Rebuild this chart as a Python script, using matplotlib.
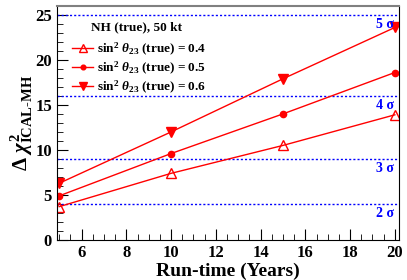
import matplotlib.pyplot as plt
from matplotlib.ticker import MultipleLocator

# Run-time in Jahren und Delta chi^2 fuer drei Werte von sin^2 theta_23
years = [5, 10, 15, 20]
chi2_04 = [3.7, 7.4, 10.5, 13.9]
chi2_05 = [4.9, 9.6, 14.0, 18.6]
chi2_06 = [6.3, 12.0, 17.9, 23.6]

# Signifikanz-Linien
sigma_vals = [4, 9, 16, 25]
sigma_labels = ["2 σ", "3 σ", "4 σ", "5 σ"]

plt.rcParams['font.family'] = ['Liberation Serif', 'DejaVu Serif']
plt.rcParams['font.weight'] = 'bold'
plt.rcParams['mathtext.fontset'] = 'custom'
plt.rcParams['mathtext.rm'] = 'Liberation Serif:bold'
plt.rcParams['mathtext.it'] = 'Liberation Serif:bold:italic'
plt.rcParams['mathtext.bf'] = 'Liberation Serif:bold'

fig = plt.figure(figsize=(4.07, 2.8), dpi=100)
ax = fig.add_axes([0.140, 0.143, 0.840, 0.836])

for v, lab in zip(sigma_vals, sigma_labels):
    ax.axhline(v, color='blue', ls=(0, (1.5, 1.5)), lw=1.0)
    ax.text(19.95, v - 0.3, lab, color='blue', ha='right', va='top', fontsize=10)

ax.plot(years, chi2_04, color='red', lw=1.0, marker='^', ms=7, mfc='none', mec='red',
        label=r"sin$^2$ $\theta_{23}$ (true) = 0.4")
ax.plot(years, chi2_05, color='red', lw=1.0, marker='o', ms=4.5,
        label=r"sin$^2$ $\theta_{23}$ (true) = 0.5")
ax.plot(years, chi2_06, color='red', lw=1.0, marker='v', ms=7,
        label=r"sin$^2$ $\theta_{23}$ (true) = 0.6")

ax.set_xlim(4.9, 20.18)
ax.set_ylim(0, 26)
ax.xaxis.set_major_locator(MultipleLocator(2))
ax.xaxis.set_minor_locator(MultipleLocator(0.5))
ax.yaxis.set_major_locator(MultipleLocator(5))
ax.yaxis.set_minor_locator(MultipleLocator(1))
ax.tick_params(which='both', direction='in', top=False, right=False, labelsize=12)
ax.tick_params(which='major', length=8)
ax.tick_params(which='minor', length=4)
for t in ax.get_xticklabels() + ax.get_yticklabels():
    t.set_fontweight('bold')
ax.spines['top'].set_color('gray')
ax.spines['top'].set_linewidth(1.5)

ax.set_xlabel("Run-time (Years)", fontsize=14, fontweight='bold', labelpad=1)
ax.set_ylabel(r"$\Delta\ \chi^2_{\rm ICAL\text{-}MH}$", fontsize=15, labelpad=0)

# Legenden-Kopf als eigener Text
ax.text(0.234, 0.910, "NH (true), 50 kt", transform=ax.transAxes,
        ha='center', va='center', fontsize=9.5, fontweight='bold')
ax.legend(loc='upper left', bbox_to_anchor=(0.029, 0.872), frameon=False,
          fontsize=9.5, handlelength=1.6, handletextpad=0.3, markerscale=0.75,
          labelspacing=0.15, borderaxespad=0)

fig.savefig("out.png", dpi=100)
